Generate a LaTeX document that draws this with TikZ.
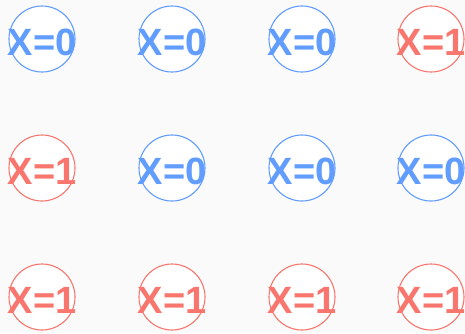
\documentclass[tikz,border=0pt]{standalone}
\usepackage{fontspec}
\setmainfont{Liberation Sans}
\definecolor{cblue}{HTML}{619CFF}
\definecolor{cred}{HTML}{F8766D}
\definecolor{bg}{HTML}{FAFAFA}
\begin{document}
\begin{tikzpicture}[x=1pt,y=-1pt,
  ring/.style={circle,draw=#1,fill=white,line width=1.1pt,minimum size=66pt,inner sep=0pt},
  lab/.style={text=#1,font=\fontsize{38}{38}\selectfont\bfseries,inner sep=0pt,anchor=center},
]
\fill[bg] (0,0) rectangle (465,333);
\useasboundingbox (0,0) rectangle (465,333);
\def\cxA{42}\def\cxB{172}\def\cxC{302}\def\cxD{431}
\def\ryA{39}\def\ryB{168}\def\ryC{297}
% row 1
\node[ring=cblue] (c11) at (\cxA,\ryA) {};
\node[lab=cblue] (t11) at (\cxA,\ryA+3) {X=0};
\node[ring=cblue] (c12) at (\cxB,\ryA) {};
\node[lab=cblue] (t12) at (\cxB,\ryA+3) {X=0};
\node[ring=cblue] (c13) at (\cxC,\ryA) {};
\node[lab=cblue] (t13) at (\cxC,\ryA+3) {X=0};
\node[ring=cred] (c14) at (\cxD,\ryA) {};
\node[lab=cred] (t14) at (\cxD,\ryA+3) {X=1};
% row 2
\node[ring=cred] (c21) at (\cxA,\ryB) {};
\node[lab=cred] (t21) at (\cxA,\ryB+3) {X=1};
\node[ring=cblue] (c22) at (\cxB,\ryB) {};
\node[lab=cblue] (t22) at (\cxB,\ryB+3) {X=0};
\node[ring=cblue] (c23) at (\cxC,\ryB) {};
\node[lab=cblue] (t23) at (\cxC,\ryB+3) {X=0};
\node[ring=cblue] (c24) at (\cxD,\ryB) {};
\node[lab=cblue] (t24) at (\cxD,\ryB+3) {X=0};
% row 3
\node[ring=cred] (c31) at (\cxA,\ryC) {};
\node[lab=cred] (t31) at (\cxA,\ryC+3) {X=1};
\node[ring=cred] (c32) at (\cxB,\ryC) {};
\node[lab=cred] (t32) at (\cxB,\ryC+3) {X=1};
\node[ring=cred] (c33) at (\cxC,\ryC) {};
\node[lab=cred] (t33) at (\cxC,\ryC+3) {X=1};
\node[ring=cred] (c34) at (\cxD,\ryC) {};
\node[lab=cred] (t34) at (\cxD,\ryC+3) {X=1};
\end{tikzpicture}
\end{document}
